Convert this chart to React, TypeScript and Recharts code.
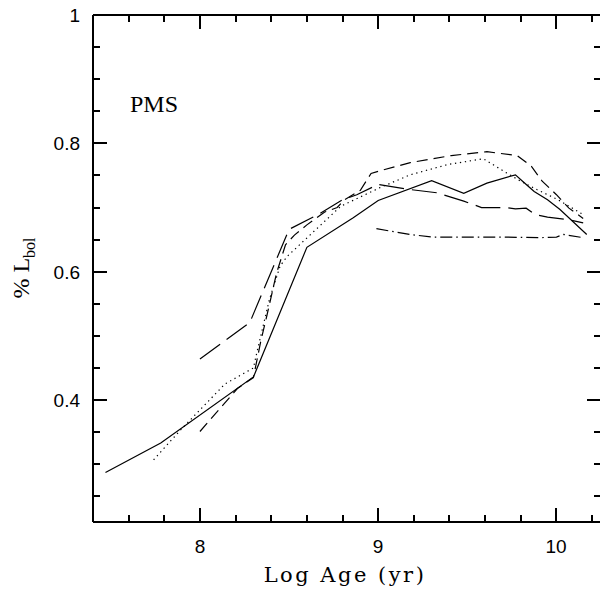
import React from 'react'
import { LineChart, Line, XAxis, YAxis } from 'recharts'

// curves (log age vs fraction of L_bol)
const solidX = [7.47, 7.78, 8.3, 8.6, 8.86, 9.0, 9.3, 9.48, 9.61, 9.77, 9.81, 9.875, 9.95, 10.02, 10.17]
const solidY = [0.287, 0.333, 0.436, 0.638, 0.684, 0.711, 0.742, 0.722, 0.738, 0.751, 0.741, 0.725, 0.712, 0.697, 0.658]

const dottedX = [7.74, 7.89, 8.14, 8.3, 8.32, 8.39, 8.45, 8.49, 8.79, 9.01, 9.18, 9.39, 9.59, 9.72, 9.8, 9.89, 10.01, 10.15]
const dottedY = [0.307, 0.353, 0.425, 0.45, 0.475, 0.557, 0.609, 0.624, 0.702, 0.731, 0.751, 0.767, 0.776, 0.754, 0.741, 0.728, 0.712, 0.689]

const dashX = [8.0, 8.21, 8.3, 8.34, 8.375, 8.43, 8.48, 8.53, 8.6, 8.7, 8.77, 8.81, 8.9, 8.96, 9.02, 9.18, 9.41, 9.61, 9.78, 9.86, 9.92, 10.0, 10.07, 10.15]
const dashY = [0.351, 0.418, 0.435, 0.49, 0.531, 0.598, 0.642, 0.657, 0.673, 0.693, 0.7, 0.712, 0.727, 0.753, 0.758, 0.77, 0.781, 0.787, 0.781, 0.764, 0.741, 0.72, 0.699, 0.683]

const longX = [8.0, 8.28, 8.5, 8.67, 8.8, 8.88, 9.0, 9.18, 9.33, 9.48, 9.58, 9.72, 9.77, 9.83, 9.88, 9.95, 10.07, 10.15]
const longY = [0.464, 0.521, 0.666, 0.69, 0.712, 0.72, 0.736, 0.728, 0.723, 0.71, 0.7, 0.7, 0.698, 0.699, 0.689, 0.685, 0.681, 0.676]

const dashDotX = [8.99, 9.18, 9.3, 9.5, 9.7, 9.9, 10.0, 10.04, 10.15]
const dashDotY = [0.667, 0.658, 0.654, 0.654, 0.654, 0.653, 0.654, 0.658, 0.653]

const xTicks = [7.6, 7.8, 8, 8.2, 8.4, 8.6, 8.8, 9, 9.2, 9.4, 9.6, 9.8, 10, 10.2]
const xMajor = [8, 9, 10]
const yTicks = [0.25, 0.3, 0.35, 0.4, 0.45, 0.5, 0.55, 0.6, 0.65, 0.7, 0.75, 0.8, 0.85, 0.9, 0.95, 1]
const yMajor = [0.4, 0.6, 0.8, 1]

const X_DOMAIN: [number, number] = [7.4, 10.25]
const Y_DOMAIN: [number, number] = [0.21, 1]

const toPts = (xs: number[], ys: number[]) => xs.map((x, i) => ({ x, y: ys[i] }))

const series = [
  { key: 'solid', data: toPts(solidX, solidY), dash: undefined },
  { key: 'dotted', data: toPts(dottedX, dottedY), dash: '1.3 3.7' },
  { key: 'dash', data: toPts(dashX, dashY), dash: '11 6' },
  { key: 'long', data: toPts(longX, longY), dash: '25 8' },
  { key: 'dashdot', data: toPts(dashDotX, dashDotY), dash: '12 4 1.5 4' },
]

// frame: chart 602 wide (right edge cropped by the window), plot box 93..601 x 15..522
const W = 602
const H = 592
const PL = 93
const PR = 601
const PT = 15
const PB = 522

const isMajorX = (v: number) => xMajor.some(m => Math.abs(m - v) < 1e-6)
const isMajorY = (v: number) => yMajor.some(m => Math.abs(m - v) < 1e-6)

const labelFont = 'Liberation Sans, Arial, sans-serif'

// bottom tick: inward mark at the bottom and its twin at the top, label for majors
const BottomTick = (p: any) => {
  const v = p.payload.value
  const x = Math.round(Number(p.x))
  const len = isMajorX(v) ? 14 : 7
  return (
    <g>
      <path d={`M${x},${PB}V${PB - len}M${x},${PT}V${PT + len}`} stroke="#000" strokeWidth={2} fill="none" shapeRendering="crispEdges" />
      {isMajorX(v) && (
        <text x={x} y={PB + 31} textAnchor="middle" fontFamily={labelFont} fontSize={19} fill="#000">
          {String(v)}
        </text>
      )}
    </g>
  )
}

// left tick: inward mark on the left and its twin on the right edge
const LeftTick = (p: any) => {
  const v = p.payload.value
  const y = Math.round(Number(p.y))
  const len = isMajorY(v) ? 14 : 7
  return (
    <g>
      <path d={`M${PL},${y}H${PL + len}M${PR},${y}H${PR - len}`} stroke="#000" strokeWidth={2} fill="none" shapeRendering="crispEdges" />
      {isMajorY(v) && (
        <text x={PL - 13} y={y + 7} textAnchor="end" fontFamily={labelFont} fontSize={19} fill="#000">
          {String(v)}
        </text>
      )}
    </g>
  )
}

export default function App() {
  return (
    <div style={{ position: 'absolute', left: 0, top: 0 }}>
      <LineChart width={W} height={H} margin={{ top: PT - 1, right: W - PR, bottom: 0, left: 0 }}>
        <XAxis
          dataKey="x"
          type="number"
          domain={X_DOMAIN}
          allowDataOverflow
          ticks={xTicks}
          interval={0}
          height={H - PB}
          tickSize={0}
          tickMargin={0}
          stroke="#000"
          strokeWidth={2}
          tick={<BottomTick />}
        />
        <XAxis
          xAxisId="top"
          orientation="top"
          type="number"
          domain={X_DOMAIN}
          allowDataOverflow
          height={1}
          tick={false}
          tickLine={false}
          stroke="#000"
          strokeWidth={2}
        />
        <YAxis
          type="number"
          domain={Y_DOMAIN}
          allowDataOverflow
          ticks={yTicks}
          interval={0}
          width={PL}
          tickSize={0}
          tickMargin={0}
          stroke="#000"
          strokeWidth={2}
          tick={<LeftTick />}
        />
        {series.map(s => (
          <Line
            key={s.key}
            data={s.data}
            dataKey="y"
            type="linear"
            stroke="#000"
            strokeWidth={1.2}
            strokeDasharray={s.dash}
            dot={false}
            activeDot={false}
            isAnimationActive={false}
          />
        ))}
        <text x={130} y={112} fontFamily="Liberation Serif, serif" fontSize={24} fill="#000">PMS</text>
        <text x={345} y={582} textAnchor="middle" fontFamily="DejaVu Serif, serif" fontSize={21} letterSpacing={2.5} fill="#000">
          Log Age (yr)
        </text>
        <text transform="translate(29,268) rotate(-90)" textAnchor="middle" fontFamily="Liberation Serif, serif" fontSize={24} fill="#000">
          % L<tspan fontSize={16} dy={6}>bol</tspan>
        </text>
      </LineChart>
    </div>
  )
}
